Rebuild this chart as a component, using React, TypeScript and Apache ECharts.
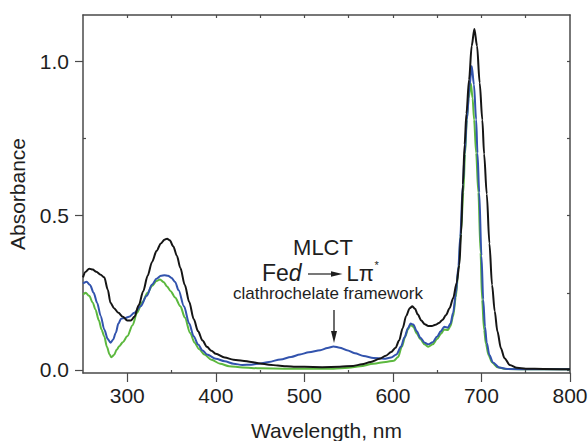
import React, { useEffect, useRef } from "react";
import * as echarts from "echarts";

// ---- Data ----
const blackWl = [250,253,257,261,265,270,274,278,281,285,290,295,300,304,308,313,318,323,328,333,338,342,345,348,352,356,360,365,370,375,380,385,390,395,400,410,420,430,440,450,460,470,480,490,500,520,540,555,565,575,585,592,598,603,607,611,615,619,622,625,628,632,636,640,644,648,652,656,660,664,668,672,675,677,679,681,683,686,689,692,695,698,701,703,706,709,712,715,718,722,726,732,740,750,770,800];
const blackAbs = [0.300,0.318,0.328,0.325,0.318,0.308,0.300,0.260,0.218,0.200,0.185,0.172,0.160,0.160,0.172,0.210,0.255,0.305,0.350,0.385,0.410,0.422,0.425,0.420,0.400,0.370,0.330,0.275,0.220,0.165,0.125,0.095,0.075,0.062,0.052,0.040,0.033,0.030,0.026,0.021,0.017,0.014,0.012,0.010,0.010,0.009,0.010,0.013,0.018,0.026,0.036,0.046,0.058,0.072,0.095,0.135,0.175,0.200,0.206,0.198,0.180,0.160,0.148,0.142,0.142,0.146,0.152,0.162,0.178,0.200,0.232,0.282,0.340,0.440,0.600,0.730,0.830,0.940,1.050,1.105,1.050,0.930,0.810,0.700,0.570,0.410,0.275,0.190,0.125,0.070,0.038,0.016,0.007,0.004,0.003,0.002];

const blueWl = [250,254,258,262,266,270,274,278,281,284,287,290,293,297,302,308,315,322,328,333,338,342,346,350,354,358,364,370,375,380,385,390,400,410,420,430,440,450,460,473,485,495,505,518,526,533,540,548,557,567,578,590,598,604,609,613,617,620,623,627,631,636,640,645,650,654,658,662,665,668,671,674,676,679,681,683.5,686.5,689,691.5,694,695.5,697.5,700,702,704,706,709,713,720,729,760,800];
const blueAbs = [0.280,0.286,0.275,0.250,0.217,0.175,0.131,0.100,0.088,0.098,0.120,0.150,0.166,0.168,0.172,0.185,0.206,0.240,0.277,0.295,0.305,0.307,0.305,0.298,0.285,0.258,0.206,0.150,0.109,0.082,0.063,0.050,0.036,0.028,0.020,0.016,0.017,0.021,0.026,0.034,0.042,0.050,0.057,0.064,0.071,0.076,0.072,0.064,0.054,0.045,0.039,0.036,0.040,0.050,0.075,0.105,0.135,0.150,0.147,0.125,0.104,0.088,0.083,0.090,0.108,0.125,0.140,0.137,0.150,0.185,0.245,0.336,0.430,0.600,0.700,0.811,0.918,0.985,0.925,0.811,0.703,0.575,0.370,0.228,0.140,0.088,0.048,0.024,0.008,0.003,0.002,0.002];

const greenWl = [250,253,257,261,264,268,271,274,277,280,282,285,288,291,295,300,306,311,317,323,328,333,337,341,345,349,354,360,365,371,376,381,387,395,405,415,430,450,480,510,533,550,563,578,592,601,606,610,614,617,620,623,627,631,636,640,645,650,654,658,662,665,668,671,674,677,679.5,681.5,683.5,685.5,688,690,691.7,694,696.5,699,700.7,703,705,708,712,718,727,760,800];
const greenAbs = [0.244,0.250,0.240,0.218,0.196,0.160,0.130,0.109,0.075,0.050,0.041,0.048,0.065,0.077,0.090,0.109,0.145,0.185,0.220,0.250,0.272,0.288,0.293,0.285,0.270,0.255,0.235,0.206,0.170,0.120,0.088,0.068,0.050,0.033,0.020,0.012,0.008,0.005,0.004,0.004,0.004,0.007,0.012,0.020,0.026,0.030,0.042,0.075,0.108,0.132,0.146,0.140,0.118,0.099,0.082,0.075,0.083,0.100,0.116,0.131,0.129,0.142,0.174,0.235,0.325,0.450,0.575,0.700,0.811,0.880,0.928,0.880,0.811,0.703,0.575,0.380,0.228,0.130,0.085,0.048,0.024,0.009,0.003,0.002,0.002];

const xMajorTicks = [300, 400, 500, 600, 700, 800];
const xMinorTicks = [350, 450, 550, 650, 750];
const xTopTicks = [300, 350, 400, 450, 500, 550, 600, 650, 700, 750];
const yMajorTicks = [0, 0.5, 1.0];
const yMinorTicks = [0.25, 0.75];
const yRightTicks = [0, 0.25, 0.5, 0.75, 1.0];

const FONT = '"Liberation Sans", Arial, Helvetica, sans-serif';
const AXIS_COLOR = "#4a4a4a";
const TEXT_COLOR = "#1e1e1e";

function pairs(xs: number[], ys: number[]) {
  return xs.map((x, i) => [x, ys[i]]);
}

export default function App() {
  const ref = useRef<HTMLDivElement>(null);
  useEffect(() => {
    if (!ref.current) return;
    const chart = echarts.init(ref.current, null, { renderer: "svg" });
    const axisLine = { show: true, onZero: false, lineStyle: { color: AXIS_COLOR, width: 1.5 } };
    const tickLine = { color: AXIS_COLOR, width: 1.2 };
    const xBase = { type: "value", min: 250, max: 800, splitLine: { show: false } };
    const yBase = { type: "value", min: -0.01, max: 1.15, splitLine: { show: false } };
    const lineSeries = (name: string, xs: number[], ys: number[], color: string, z: number) => ({
      name,
      type: "line",
      data: pairs(xs, ys),
      xAxisIndex: 0,
      yAxisIndex: 0,
      showSymbol: false,
      symbol: "none",
      smooth: 0.3,
      smoothMonotone: "x",
      z,
      lineStyle: { color, width: 2 },
      itemStyle: { color },
    });
    chart.setOption({
      animation: false,
      backgroundColor: "#ffffff",
      textStyle: { fontFamily: FONT },
      grid: { left: 83, right: 18, top: 15, bottom: 68, containLabel: false, outerBoundsMode: "none" },
      xAxis: [
        {
          ...xBase,
          position: "bottom",
          axisLine,
          axisTick: { show: true, inside: false, length: 9, customValues: xMajorTicks, lineStyle: tickLine },
          axisLabel: { show: true, customValues: xMajorTicks, fontSize: 21, color: TEXT_COLOR, margin: 12, fontFamily: FONT },
          name: "Wavelength, nm",
          nameLocation: "middle",
          nameGap: 47,
          nameTextStyle: { fontSize: 21, color: TEXT_COLOR, fontFamily: FONT },
        },
        {
          ...xBase,
          position: "top",
          axisLine,
          axisTick: { show: true, inside: true, length: 3, customValues: xTopTicks, lineStyle: tickLine },
          axisLabel: { show: false },
        },
        {
          ...xBase,
          position: "bottom",
          axisLine: { show: false, onZero: false },
          axisTick: { show: true, inside: true, length: 3, customValues: xMinorTicks, lineStyle: tickLine },
          axisLabel: { show: false },
        },
      ],
      yAxis: [
        {
          ...yBase,
          position: "left",
          axisLine,
          axisTick: { show: true, inside: false, length: 8, customValues: yMajorTicks, lineStyle: tickLine },
          axisLabel: {
            show: true,
            customValues: yMajorTicks,
            formatter: (v: number) => v.toFixed(1),
            fontSize: 21,
            color: TEXT_COLOR,
            margin: 14,
            fontFamily: FONT,
          },
          name: "Absorbance",
          nameLocation: "middle",
          nameGap: 55,
          nameRotate: 90,
          nameTextStyle: { fontSize: 21, color: TEXT_COLOR, fontFamily: FONT },
        },
        {
          ...yBase,
          position: "right",
          axisLine,
          axisTick: { show: true, inside: true, length: 3, customValues: yRightTicks, lineStyle: tickLine },
          axisLabel: { show: false },
        },
        {
          ...yBase,
          position: "left",
          axisLine: { show: false, onZero: false },
          axisTick: { show: true, inside: true, length: 3, customValues: yMinorTicks, lineStyle: tickLine },
          axisLabel: { show: false },
        },
      ],
      series: [
        lineSeries("Green", greenWl, greenAbs, "#5cb83e", 3),
        lineSeries("Blue", blueWl, blueAbs, "#3253ad", 4),
        lineSeries("Black", blackWl, blackAbs, "#151515", 5),
      ],
      graphic: [
        {
          type: "text",
          x: 323,
          y: 247,
          style: { text: "MLCT", font: `22px ${FONT}`, fill: TEXT_COLOR, textAlign: "center", textVerticalAlign: "middle" },
        },
        {
          type: "text",
          x: 262,
          y: 273,
          style: {
            text: "{n|Fe}{i|d}",
            textVerticalAlign: "middle",
            rich: {
              n: { fontSize: 23, fontFamily: FONT, fill: TEXT_COLOR, color: TEXT_COLOR },
              i: { fontSize: 23, fontFamily: FONT, fontStyle: "italic", fill: TEXT_COLOR, color: TEXT_COLOR },
            },
          },
        },
        {
          type: "line",
          shape: { x1: 308, y1: 274, x2: 333, y2: 274 },
          style: { stroke: TEXT_COLOR, lineWidth: 1.2 },
        },
        {
          type: "polygon",
          shape: { points: [[331, 271.3], [331, 276.7], [342.5, 274]] },
          style: { fill: TEXT_COLOR },
        },
        {
          type: "text",
          x: 346.5,
          y: 273,
          style: { text: "Lπ", font: `22px ${FONT}`, fill: TEXT_COLOR, textAlign: "left", textVerticalAlign: "middle" },
        },
        {
          type: "text",
          x: 374.5,
          y: 265,
          style: { text: "*", font: `11px ${FONT}`, fill: TEXT_COLOR, textAlign: "left", textVerticalAlign: "middle" },
        },
        {
          type: "text",
          x: 328,
          y: 293,
          style: {
            text: "clathrochelate framework",
            font: `17px ${FONT}`,
            fill: TEXT_COLOR,
            textAlign: "center",
            textVerticalAlign: "middle",
          },
        },
        {
          type: "line",
          shape: { x1: 334, y1: 310, x2: 334, y2: 333 },
          style: { stroke: TEXT_COLOR, lineWidth: 1.3 },
        },
        {
          type: "polygon",
          shape: { points: [[331, 331], [337, 331], [334, 343]] },
          style: { fill: TEXT_COLOR },
        },
      ],
    });
    return () => chart.dispose();
  }, []);
  return <div ref={ref} style={{ width: 588, height: 441, position: "absolute", left: 0, top: 0 }} />;
}
